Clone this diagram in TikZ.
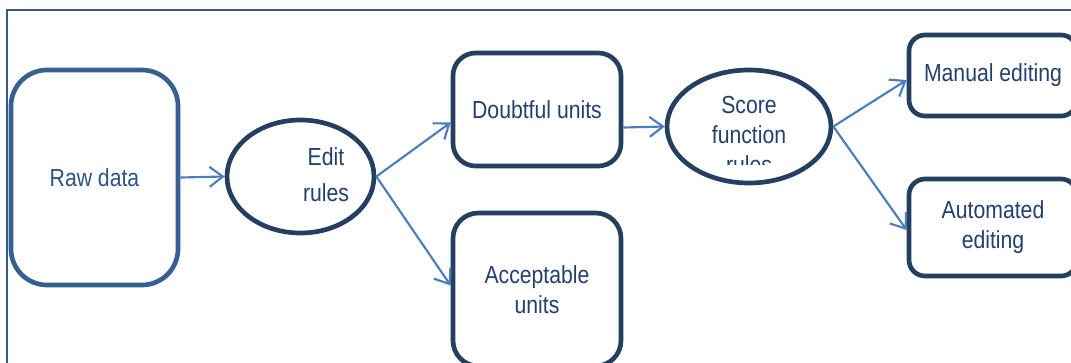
\documentclass[tikz,border=0pt]{standalone}
\usepackage{fontspec}
\setmainfont{Liberation Sans}[FakeStretch=0.86]
\usetikzlibrary{shapes.geometric,arrows.meta,calc}
\definecolor{boxnavy}{RGB}{36,63,96}
\definecolor{boxblue}{RGB}{55,96,146}
\definecolor{linkblue}{RGB}{74,126,187}
\definecolor{labelnavy}{RGB}{35,64,110}
\definecolor{labelblue}{RGB}{44,84,135}
\definecolor{framecol}{RGB}{56,90,130}

\begin{document}
\begin{tikzpicture}[x=0.75pt,y=-0.75pt,
  card/.style={draw=boxnavy, line width=3.5pt, rectangle, inner sep=0pt,
    text=labelnavy, align=center, font=\fontsize{18.5}{22.5}\selectfont},
  oval/.style={draw=boxnavy, line width=3.5pt, ellipse, inner sep=0pt},
  txt/.style={text=labelnavy, align=center, inner sep=0pt},
  link/.style={draw=linkblue, line width=1.6pt,
    -{Straight Barb[length=10pt,width=15pt]}}
]
\useasboundingbox (0,0) rectangle (1071,362);
\clip (0,0) rectangle (1071,362);
\fill[white] (0,0) rectangle (1071,362);

% outer frame, running past the page edges
\draw[framecol, line width=1.1pt] (7,10) rectangle (1300,600);

% boxes
\node[card, draw=boxblue, text=labelblue, rounded corners=27pt,
  minimum width=125.25pt, minimum height=161.25pt] (raw) at (94.5,177.5) {Raw data};
\node[card, rounded corners=17pt,
  minimum width=126pt, minimum height=84.75pt] (doubtful) at (537,109.5) {Doubtful units};
\node[card, rounded corners=19pt,
  minimum width=126pt, minimum height=114.75pt] (acceptable) at (537,289.5) {Acceptable\\units};
\node[card, rounded corners=12pt,
  minimum width=126pt, minimum height=60.75pt] (manual) at (993,75.5) {Manual editing};
\node[card, rounded corners=12pt,
  minimum width=126pt, minimum height=72.75pt] (automated) at (993,227.5) {Automated\\editing};

% rule ellipses
\node[oval, minimum width=110.25pt, minimum height=84.75pt] (edit) at (300.5,176.5) {};
\node[txt, font=\fontsize{18.5}{27}\selectfont] (edittext) at (326,175) {Edit\\rules};

\node[oval, minimum width=123pt, minimum height=84.75pt] (score) at (749,126.5) {};
\begin{scope}
  \clip (600,60) rectangle (900,164);
  \node[txt, font=\fontsize{18.5}{22.5}\selectfont] (scoretext) at (749,135) {Score\\function\\rules};
\end{scope}

% connectors
\draw[link] (raw.east) -- (edit.west);
\draw[link] (edit.east) -- ($(doubtful.west)+(0,13)$);
\draw[link] (edit.east) -- ($(acceptable.west)+(0,-4)$);
\draw[link] ($(doubtful.east)+(0,18)$) -- (score.west);
\draw[link] (score.east) -- ($(manual.west)+(0,4.5)$);
\draw[link] (score.east) -- ($(automated.west)+(0,2.5)$);
\end{tikzpicture}
\end{document}
